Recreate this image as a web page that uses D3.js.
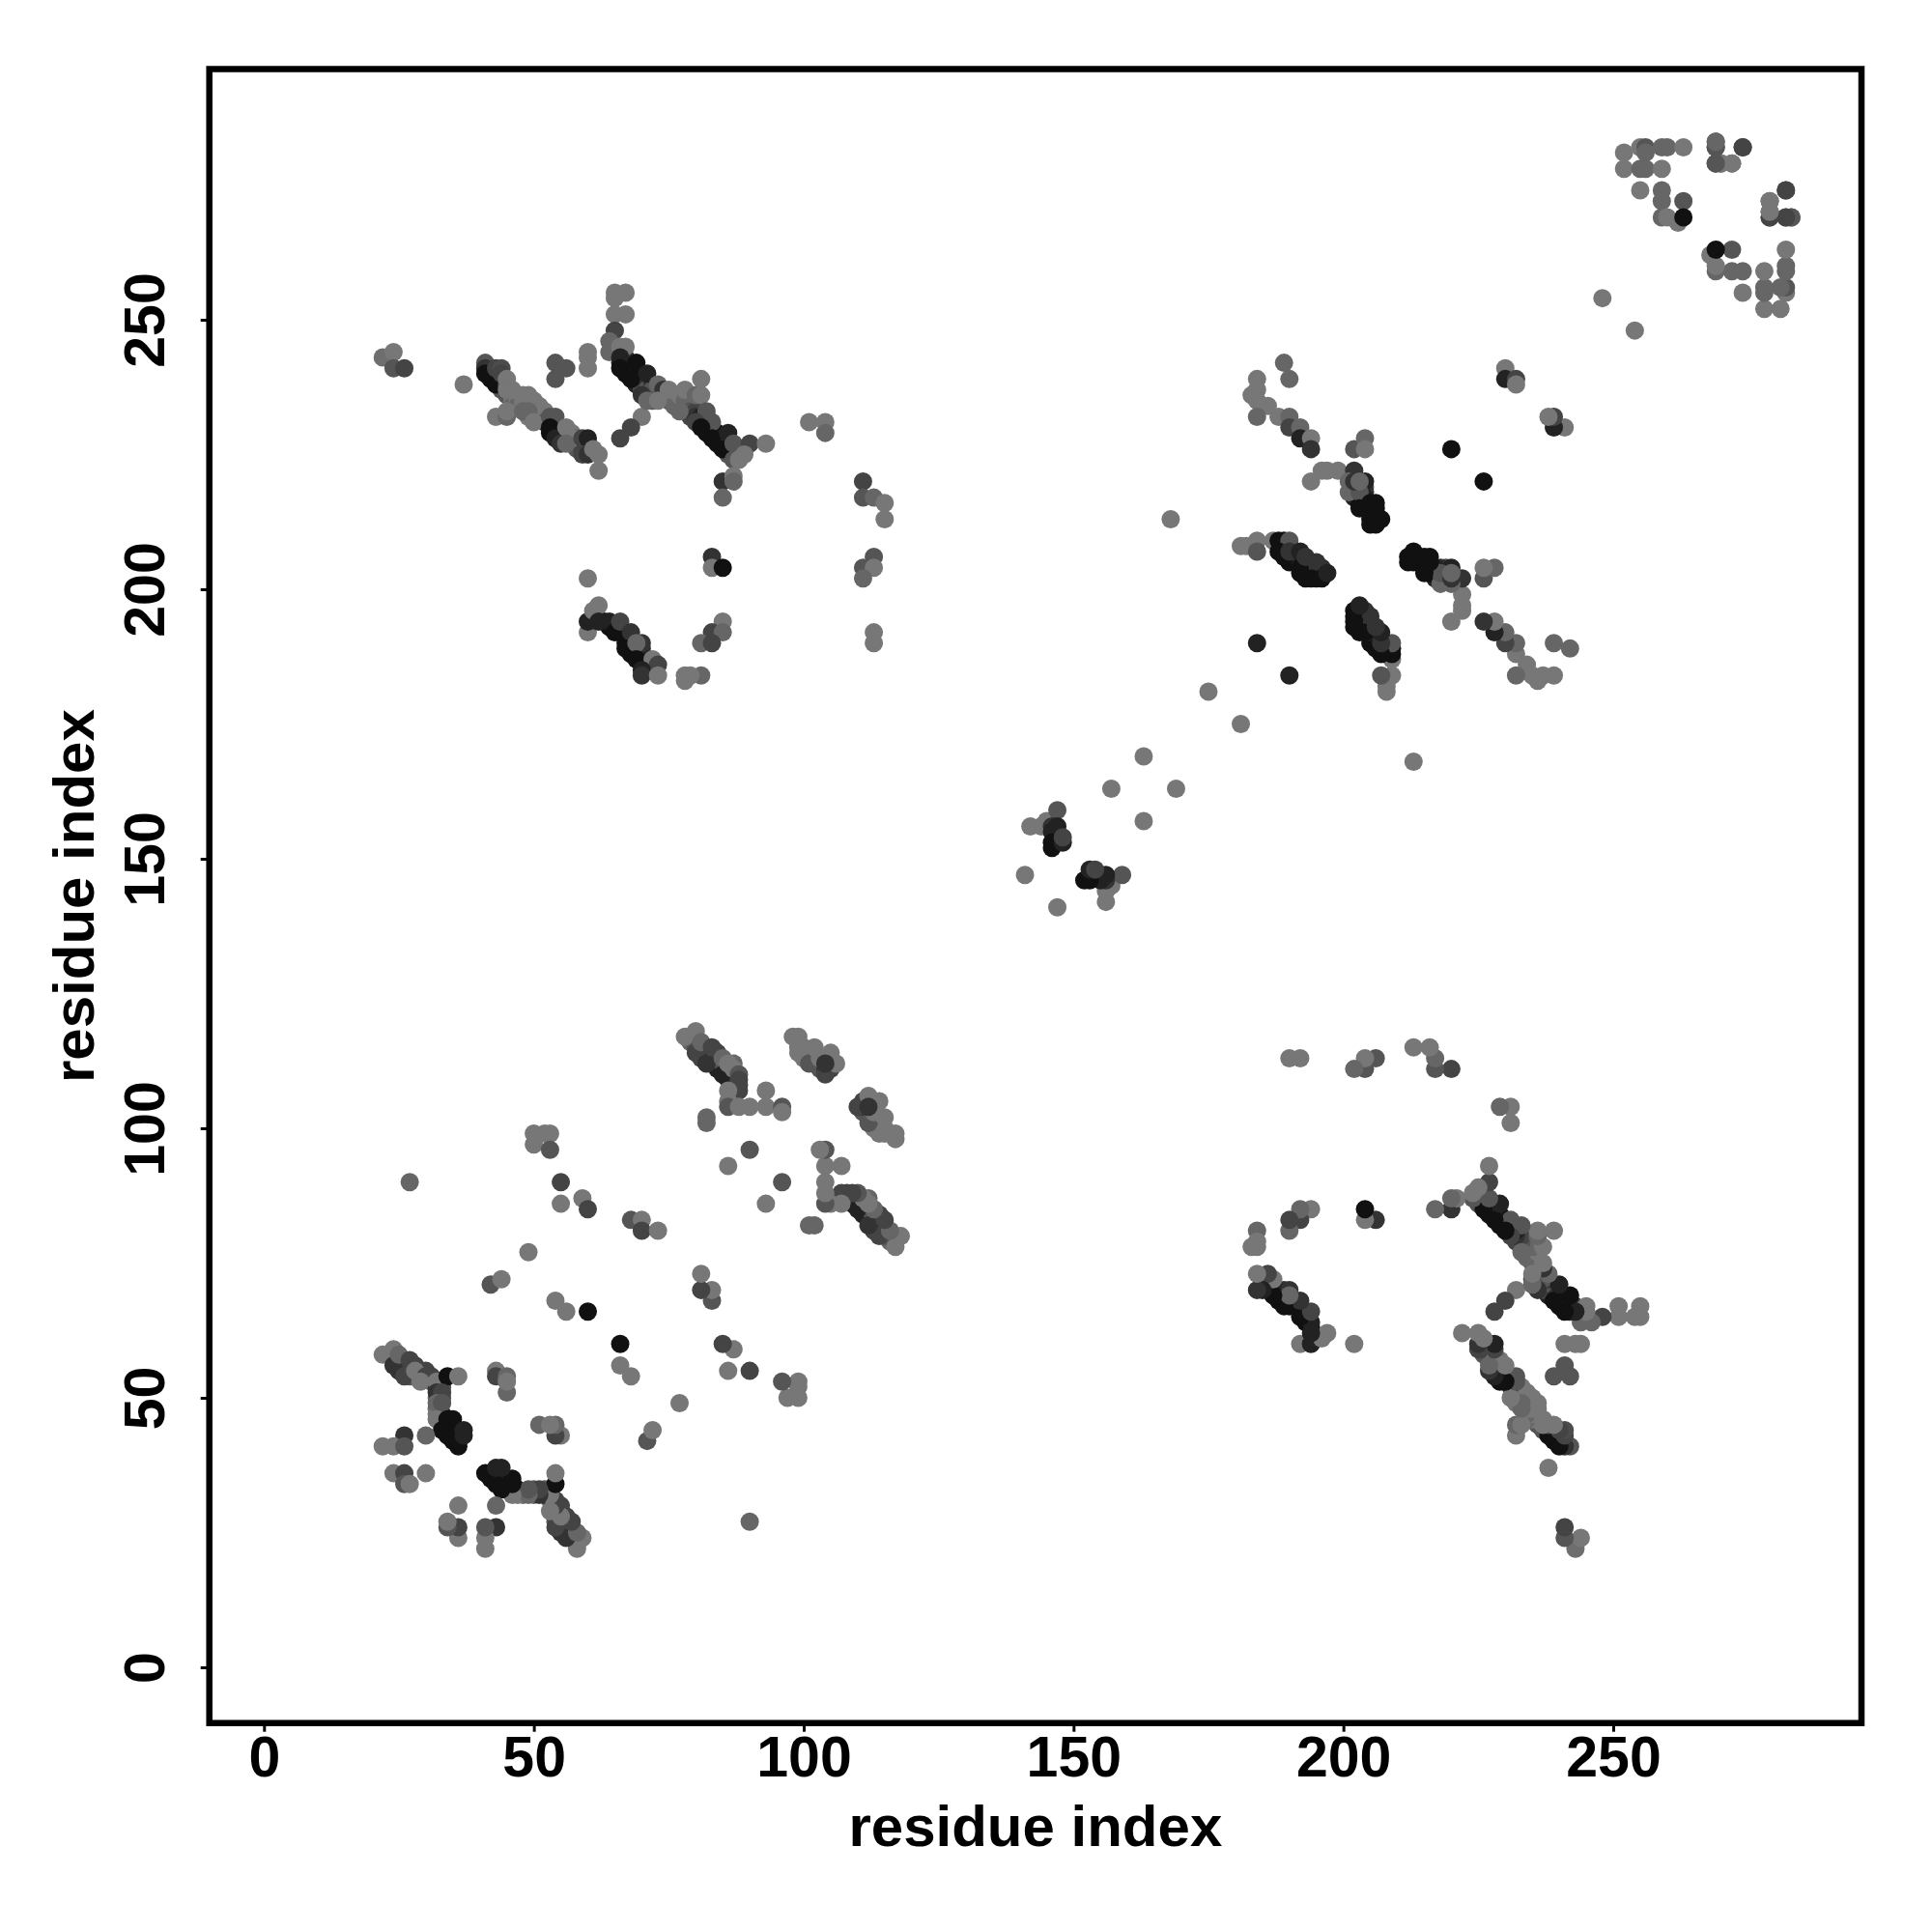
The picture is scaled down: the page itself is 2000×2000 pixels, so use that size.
<!DOCTYPE html>
<html><head><meta charset="utf-8">
<script src="https://cdn.jsdelivr.net/npm/d3@7"></script>
<style>html,body{margin:0;background:#fff}svg{display:block}text{font-family:"Liberation Sans",Arial,sans-serif;font-weight:bold;fill:#000}</style>
</head><body><svg id="c" width="2000" height="2000"></svg>
<script>
// Each contact: [residue i, residue j (i<j), grey level]. The map is symmetric, so both (i,j) and (j,i) are drawn.
const bandBarrelA = [
[42,241,0x55],[42,240,0x33],[43,239,0x22],[43,240,0x44],[44,238,0x33],[44,237,0x55],[45,236,0x55],[46,235,0x77],[46,234,0x66],[47,236,0x77],
[47,235,0x77],[47,234,0x66],[48,234,0x77],[48,235,0x77],[49,235,0x66],[49,234,0x77],[49,232,0x77],[50,234,0x66],[50,233,0x66],[51,233,0x66],
[51,232,0x77],[52,233,0x77],[52,232,0x55],[52,231,0x33],[53,231,0x22],[54,231,0x55],[54,230,0x33],[54,229,0x22],[55,229,0x22],[55,228,0x33],
[55,230,0x55],[56,229,0x55],[56,228,0x33],[57,227,0x55],[57,229,0x77],[58,228,0x66],[58,227,0x66],[58,226,0x55],[59,227,0x33],[59,226,0x44],
[60,227,0x33],[60,226,0x44]
];
const bandBarrelB = [
[66,242,0x22],[67,243,0x33],[67,241,0x11],[67,240,0x11],[68,241,0x11],[68,240,0x11],[69,241,0x11],[69,240,0x22],[69,238,0x22],[70,239,0x11],
[70,238,0x33],[70,237,0x44],[71,238,0x33],[71,237,0x55],[71,236,0x44],[72,238,0x33],[72,237,0x55],[72,236,0x55],[72,235,0x55],[74,236,0x66],
[75,235,0x55],[76,236,0x66],[76,234,0x66],[77,236,0x77],[78,235,0x66],[78,233,0x55],[79,235,0x66],[79,233,0x55],[79,232,0x44],[80,233,0x44],
[80,232,0x33],[81,232,0x22],[81,231,0x22],[82,231,0x11],[82,230,0x11],[82,229,0x11],[83,230,0x22],[83,229,0x11],[84,229,0x11],[84,228,0x11],
[84,227,0x11],[85,228,0x22],[85,227,0x11],[86,227,0x33],[86,226,0x33],[86,225,0x55],[87,226,0x44],[87,225,0x55],[88,226,0x55],[88,225,0x66],
[89,226,0x55]
];
const bandBarrelC = [
[63,194,0x11],[64,193,0x11],[64,194,0x22],[65,193,0x22],[66,192,0x11],[66,193,0x33],[67,191,0x22],[67,192,0x33],[67,190,0x11],[68,190,0x11],
[68,189,0x11],[68,188,0x11],[69,189,0x22],[69,188,0x11],[70,189,0x33],[70,188,0x33],[70,187,0x22],[70,186,0x11],[71,187,0x22],[71,186,0x22],
[71,185,0x33],[72,186,0x55]
];
const bandCTerminalA = [
[201,221,0x44],[202,221,0x33],[202,219,0x33],[202,218,0x55],[202,217,0x22],[203,219,0x44],[203,217,0x22],[203,216,0x11],[204,219,0x55],[204,218,0x33],
[204,217,0x22],[204,216,0x11],[204,215,0x22],[205,215,0x11],[205,214,0x11],[205,213,0x11],[206,214,0x11],[206,215,0x11],[206,213,0x11]
];
const bandCTerminalB = [
[188,208,0x11],[189,208,0x11],[189,207,0x11],[190,208,0x33],[190,206,0x11],[190,205,0x11],[191,206,0x22],[191,205,0x11],[192,206,0x33],[192,205,0x22],
[192,203,0x11],[193,205,0x22],[193,204,0x11],[193,203,0x11],[193,202,0x11],[194,205,0x33],[194,204,0x22],[194,203,0x55],[195,204,0x33],[195,203,0x55],
[195,202,0x11],[196,203,0x22],[196,204,0x33]
];
const bandNTerminal = [
[24,58,0x44],[25,57,0x33],[25,56,0x22],[25,55,0x33],[26,57,0x55],[26,56,0x33],[26,55,0x33],[27,56,0x44],[27,55,0x44],[27,54,0x55],
[28,56,0x44],[28,54,0x55],[29,55,0x44],[29,54,0x44],[30,55,0x44],[31,54,0x44],[31,53,0x66],[32,52,0x33],[33,53,0x33],[33,52,0x55],
[33,50,0x55],[33,47,0x22],[33,46,0x22],[33,45,0x11],[34,45,0x11],[34,44,0x11],[35,45,0x22],[35,44,0x11],[35,43,0x11],[35,42,0x11],
[36,44,0x22],[36,43,0x22],[36,41,0x11],[32,48,0x66],[32,50,0x66],[32,47,0x77]
];
const bandStrandPairs = [
[79,116,0x66],[80,116,0x66],[80,115,0x55],[81,115,0x55],[81,114,0x44],[81,113,0x44],[82,114,0x33],[82,113,0x33],[83,113,0x33],[83,112,0x22],
[84,112,0x33],[84,111,0x22],[84,114,0x44],[85,111,0x22],[85,112,0x55],[86,110,0x11],[86,111,0x33],[86,109,0x22],[87,110,0x33],[87,109,0x22],
[87,108,0x33],[87,112,0x66],[88,108,0x44],[99,116,0x77],[99,115,0x77],[100,115,0x77],[100,114,0x77],[100,113,0x77],[101,114,0x77],[101,113,0x66],
[102,113,0x66],[102,112,0x55],[103,112,0x66],[103,111,0x55],[104,113,0x77],[104,111,0x33],[105,112,0x33],[105,111,0x44]
];
const contactsNTerminal = [
[22,58,0x77],[24,59,0x77],[24,56,0x33],[25,58,0x66],[27,57,0x44],[26,54,0x44],[28,55,0x77],[30,54,0x44],[29,53,0x77],[32,53,0x77],
[34,54,0x11],[36,54,0x77],[32,51,0x33],[33,51,0x44],[32,49,0x66],[33,49,0x55],[32,46,0x77],[34,46,0x11],[35,46,0x11],[33,44,0x11],
[34,43,0x11],[36,42,0x11],[37,44,0x22],[37,43,0x22],[30,43,0x66],[26,43,0x33],[22,41,0x77],[24,41,0x77],[26,41,0x55],[24,36,0x77],
[26,36,0x44],[26,34,0x55],[27,34,0x77],[30,36,0x77],[43,55,0x77],[43,54,0x44],[45,54,0x66],[45,51,0x66],[45,53,0x77]
];
const contactsNearFar = [
[42,71,0x55],[44,72,0x77],[49,77,0x77],[50,99,0x77],[52,99,0x77],[53,99,0x77],[50,97,0x77],[53,96,0x55],[55,90,0x44],[55,86,0x77],
[59,87,0x77],[60,85,0x44],[54,68,0x77],[56,66,0x77],[60,66,0x11],[68,83,0x55],[70,83,0x77],[70,81,0x44],[73,81,0x77],[27,90,0x66]
];
const contactsStrandPairs = [
[78,117,0x77],[80,118,0x77],[80,114,0x44],[81,116,0x66],[82,112,0x33],[83,115,0x44],[85,113,0x66],[85,110,0x22],[86,112,0x77],[87,111,0x77],
[88,110,0x55],[88,109,0x44],[88,107,0x44],[86,107,0x77],[86,105,0x77],[86,104,0x55],[88,104,0x77],[90,104,0x77],[93,107,0x77],[93,104,0x77],
[96,104,0x55],[96,103,0x77],[82,102,0x66],[82,101,0x66],[90,96,0x55],[86,93,0x77],[98,117,0x77],[99,117,0x77],[99,114,0x77],[101,112,0x55],
[102,115,0x77],[104,110,0x44],[103,113,0x77],[105,114,0x77],[106,112,0x77],[104,112,0x33]
];
const contactsBarrelA = [
[22,243,0x6e],[24,244,0x77],[24,241,0x55],[26,241,0x44],[37,238,0x77],[41,242,0x55],[41,241,0x33],[41,240,0x11],[42,239,0x11],[43,238,0x11],
[43,241,0x44],[44,241,0x4c],[44,240,0x44],[45,238,0x55],[45,239,0x77],[45,237,0x77],[43,232,0x77],[45,232,0x66],[45,233,0x77],[46,237,0x77],
[48,236,0x77],[49,236,0x77],[50,235,0x77],[51,234,0x77],[48,233,0x66],[49,233,0x66],[50,231,0x77],[53,232,0x55],[54,232,0x55],[53,230,0x11],
[53,229,0x11],[54,228,0x22],[55,227,0x33],[56,230,0x77],[57,228,0x77],[56,227,0x66],[59,228,0x44],[60,228,0x22],[59,225,0x44],[60,225,0x33],
[61,226,0x77],[62,225,0x77],[62,222,0x77],[54,242,0x55],[56,241,0x55],[54,239,0x55],[60,244,0x77],[60,243,0x77],[60,241,0x77]
];
const contactsBarrelB = [
[65,255,0x77],[67,255,0x77],[65,254,0x77],[65,251,0x77],[67,251,0x77],[65,248,0x44],[64,246,0x66],[64,244,0x66],[66,245,0x77],[67,245,0x77],
[66,243,0x22],[66,241,0x11],[69,242,0x11],[68,239,0x11],[71,240,0x22],[70,236,0x33],[73,238,0x66],[74,237,0x33],[75,237,0x77],[78,237,0x77],
[77,233,0x66],[80,236,0x66],[81,236,0x77],[81,239,0x77],[82,233,0x55],[83,231,0x55],[80,231,0x44],[81,230,0x11],[83,228,0x11],[85,226,0x11],
[86,229,0x22],[87,227,0x55],[87,224,0x55],[90,227,0x44],[93,227,0x77],[89,225,0x77],[88,224,0x77],[85,220,0x33],[87,221,0x77],[87,220,0x66],
[85,217,0x66],[70,232,0x77],[68,230,0x44],[66,228,0x44],[71,235,0x66],[73,235,0x77],[101,231,0x77],[104,231,0x77],[104,229,0x66],[111,220,0x44],
[111,217,0x55],[113,217,0x66],[115,216,0x77],[115,213,0x77]
];
const contactsBarrelC = [
[60,202,0x77],[60,192,0x77],[60,194,0x22],[61,196,0x77],[62,197,0x77],[62,194,0x22],[65,192,0x11],[66,194,0x44],[68,192,0x33],[67,189,0x11],
[70,190,0x33],[69,190,0x66],[69,187,0x11],[72,187,0x77],[73,186,0x44],[70,185,0x22],[70,184,0x33],[73,184,0x77],[78,184,0x77],[78,183,0x77],
[81,184,0x66],[79,184,0x77],[83,206,0x33],[83,204,0x77],[85,204,0x11],[85,194,0x77],[83,192,0x44],[85,192,0x66],[81,190,0x66],[83,190,0x44],
[113,206,0x55],[111,204,0x55],[113,204,0x77],[111,202,0x66],[113,192,0x77],[113,190,0x77]
];
const contactsHinge = [
[142,156,0x77],[144,156,0x77],[145,157,0x77],[147,159,0x55],[146,156,0x33],[147,156,0x22],[146,155,0x22],[146,153,0x11],[146,152,0x11],[148,153,0x22],
[148,154,0x44],[141,147,0x77],[157,163,0x77],[163,169,0x77],[175,181,0x77],[168,213,0x77],[184,190,0x22],[248,254,0x77]
];
const contactsCTerminalA = [
[189,242,0x66],[190,239,0x66],[184,239,0x77],[184,237,0x77],[183,236,0x77],[184,235,0x77],[186,234,0x77],[184,232,0x66],[188,232,0x77],[190,232,0x66],
[190,230,0x44],[192,230,0x66],[192,228,0x22],[194,228,0x77],[194,226,0x33],[194,220,0x77],[196,222,0x77],[197,222,0x77],[199,222,0x77],[202,226,0x55],
[204,228,0x66],[204,226,0x77],[202,222,0x33],[201,220,0x66],[204,220,0x22],[201,218,0x66],[203,218,0x55],[203,215,0x11],[205,216,0x11],[206,216,0x11],
[205,212,0x11],[206,212,0x11],[207,213,0x11],[202,220,0x33],[203,220,0x66],[220,226,0x11],[230,241,0x77],[230,239,0x22],[232,239,0x44],[232,238,0x77]
];
const contactsCTerminalB = [
[181,208,0x77],[182,208,0x77],[184,209,0x77],[184,207,0x55],[187,209,0x77],[188,209,0x11],[189,209,0x11],[190,209,0x55],[188,207,0x11],[189,206,0x11],
[190,207,0x33],[192,207,0x22],[192,204,0x11],[195,205,0x33],[194,202,0x11],[196,202,0x11],[197,203,0x22],[193,206,0x33]
];
const contactsTail = [
[252,281,0x77],[252,278,0x77],[255,282,0x77],[256,282,0x55],[256,281,0x66],[255,278,0x66],[256,278,0x66],[259,278,0x77],[259,282,0x66],[260,282,0x66],
[263,282,0x77],[255,274,0x77],[259,274,0x66],[259,272,0x66],[263,272,0x55],[259,269,0x66],[260,269,0x77],[262,268,0x77],[263,269,0x11],[269,283,0x55],
[269,282,0x44],[269,279,0x44],[270,279,0x77],[272,279,0x77],[274,282,0x44],[279,272,0x77],[282,274,0x44],[279,270,0x77],[279,269,0x55],[282,269,0x55],
[283,269,0x66]
];
const tickValues = [0,50,100,150,200,250];
const axisTitle = "residue index";

const contacts = [
  ...bandBarrelA,...bandBarrelB,...bandBarrelC,...bandCTerminalA,...bandCTerminalB,...bandNTerminal,...bandStrandPairs,
  ...contactsNTerminal,...contactsNearFar,...contactsStrandPairs,...contactsBarrelA,...contactsBarrelB,...contactsBarrelC,
  ...contactsHinge,...contactsCTerminalA,...contactsCTerminalB,...contactsTail
];

const L=216.7,R=1927,T=71.5,B=1783.7;
const x=d3.scaleLinear().domain([-10.13,296]).range([L,R]);
const y=d3.scaleLinear().domain([-10.34,296.5]).range([B,T]);
const svg=d3.select("#c");

const grey=g=>d3.rgb(g,g,g).formatHex();
const pts=svg.append("g");
const draw=(data,fx,fy)=>pts.selectAll(null).data(data).enter().append("circle")
  .attr("cx",d=>x(fx(d))).attr("cy",d=>y(fy(d))).attr("r",9.5).attr("fill",d=>grey(d[2]));
draw(contacts,d=>d[0],d=>d[1]);
draw(contacts,d=>d[1],d=>d[0]);

const ax=svg.append("g").attr("transform",`translate(0,${B})`)
  .call(d3.axisBottom(x).tickValues(tickValues).tickSize(9).tickFormat(d3.format("d")));
ax.select(".domain").remove();
ax.selectAll("line").attr("stroke","#000").attr("stroke-width",3);
ax.selectAll("text").attr("font-size",59).attr("fill","#000").attr("dy",0).attr("y",55.5);

const ay=svg.append("g").attr("transform",`translate(${L},0)`)
  .call(d3.axisLeft(y).tickValues(tickValues).tickSize(9).tickFormat(d3.format("d")));
ay.select(".domain").remove();
ay.selectAll("line").attr("stroke","#000").attr("stroke-width",3);
ay.selectAll("text").attr("font-size",59).attr("fill","#000").attr("dy",0).attr("x",0).attr("y",0)
  .attr("text-anchor","middle").attr("transform",`translate(-46.5,0) rotate(-90)`);

svg.append("rect").attr("x",L).attr("y",T).attr("width",R-L).attr("height",B-T)
  .attr("fill","none").attr("stroke","#000").attr("stroke-width",6.5);

svg.append("text").attr("x",(L+R)/2).attr("y",1911).attr("text-anchor","middle").attr("font-size",60).text(axisTitle);
svg.append("text").attr("transform",`translate(97,${(T+B)/2}) rotate(-90)`).attr("text-anchor","middle").attr("font-size",60).text(axisTitle);
</script></body></html>
